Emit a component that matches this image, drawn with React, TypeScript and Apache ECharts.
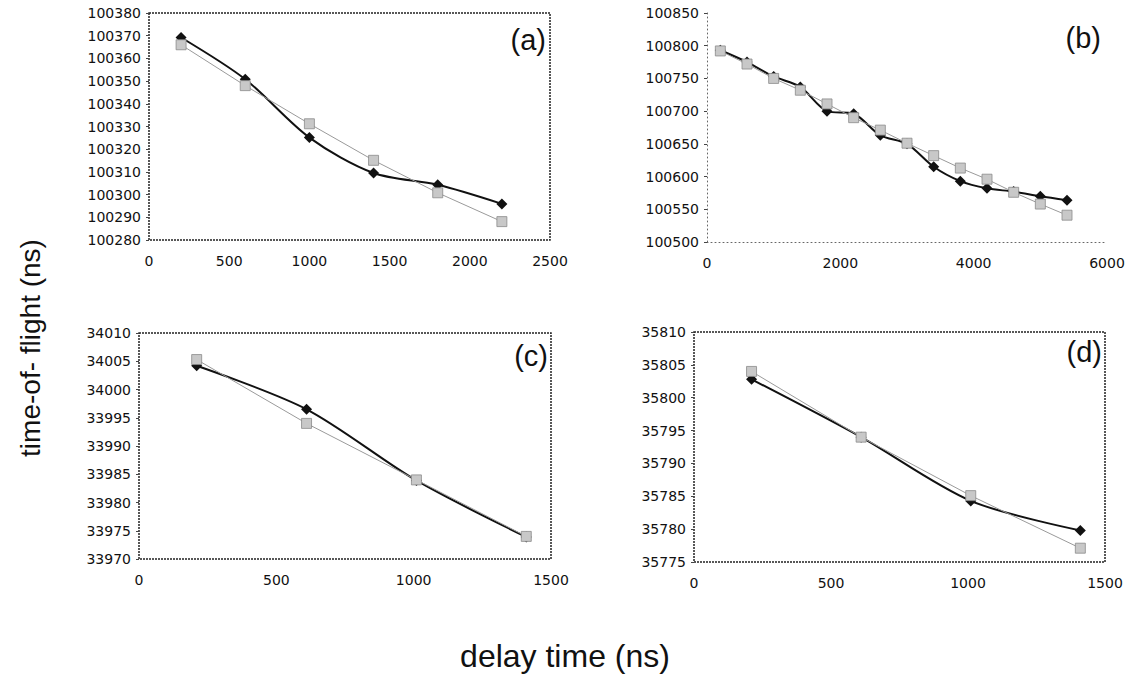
import React, { useEffect, useRef } from "react";
import * as echarts from "echarts";

// ---------- data ----------
const xA = [200, 600, 1000, 1400, 1800, 2200];
const blackA = [100369.2, 100350.8, 100325.1, 100309.5, 100304.3, 100295.9];
const grayA = [100366, 100348, 100331.2, 100315.1, 100300.8, 100288.1];

const xB = [200, 600, 1000, 1400, 1800, 2200, 2600, 3000, 3400, 3800, 4200, 4600, 5000, 5400];
const blackB = [100793, 100775, 100753, 100737, 100700, 100696, 100663, 100650, 100615, 100593, 100582, 100577, 100570, 100564];
const grayB = [100792, 100772, 100750, 100732, 100711, 100690, 100671, 100651, 100632, 100613, 100596, 100576, 100558, 100541];

const xC = [210, 610, 1010, 1410];
const blackC = [34004.2, 33996.5, 33983.9, 33973.9];
const grayC = [34005.3, 33994, 33984, 33974];

const xD = [210, 610, 1010, 1410];
const blackD = [35802.8, 35794, 35784.3, 35779.8];
const grayD = [35804, 35794, 35785.1, 35777.1];

const panelLabels = ["(a)", "(b)", "(c)", "(d)"];
const yTitle = "time-of- flight (ns)";
const xTitle = "delay time (ns)";

// axis ranges [min, max, interval]
const xRanges = [
  [0, 2500, 500],
  [0, 6000, 2000],
  [0, 1500, 500],
  [0, 1500, 500],
];
const yRanges = [
  [100280, 100380, 10],
  [100500, 100850, 50],
  [33970, 34010, 5],
  [35775, 35810, 5],
];

export default function App() {
  const ref = useRef<HTMLDivElement>(null);
  useEffect(() => {
    if (!ref.current) return;
    const chart = echarts.init(ref.current, undefined, { renderer: "svg" });
    const font = "DejaVu Sans";
    const grids = [
      { left: 149, top: 13, width: 401, height: 227 },
      { left: 707, top: 13, width: 400, height: 229 },
      { left: 139, top: 333, width: 412, height: 226 },
      { left: 694, top: 332, width: 411, height: 230 },
    ];
    const boxed = [true, false, true, true];
    const gridOpts = grids.map((g, i) => ({
      ...g,
      show: boxed[i],
      borderColor: "#222",
      borderWidth: 1.5,
      borderType: [2, 1],
      backgroundColor: "transparent",
    }));
    const xAxes = xRanges.map((r, i) => ({
      type: "value",
      gridIndex: i,
      min: r[0],
      max: r[1],
      interval: r[2],
      splitLine: { show: false },
      axisLine: {
        show: !boxed[i],
        onZero: false,
        lineStyle: { color: "#666", type: [1, 3], width: 1 },
      },
      axisTick: { show: false },
      axisLabel: {
        color: "#111",
        fontFamily: font,
        fontSize: 14,
        margin: 14,
        formatter: (v: number) => String(v),
      },
    }));
    const yAxes = yRanges.map((r, i) => ({
      type: "value",
      gridIndex: i,
      min: r[0],
      max: r[1],
      interval: r[2],
      splitLine: { show: false },
      axisLine: {
        show: !boxed[i],
        onZero: false,
        lineStyle: { color: "#666", type: [1, 3], width: 1 },
      },
      axisTick: { show: true, length: 3, lineStyle: { color: "#444" } },
      axisLabel: {
        color: "#111",
        fontFamily: font,
        fontSize: 14,
        margin: 8,
        formatter: (v: number) => String(v),
      },
    }));
    const xs = [xA, xB, xC, xD];
    const blacks = [blackA, blackB, blackC, blackD];
    const grays = [grayA, grayB, grayC, grayD];
    const series: any[] = [];
    for (let i = 0; i < 4; i++) {
      series.push({
        type: "line",
        xAxisIndex: i,
        yAxisIndex: i,
        data: xs[i].map((x, k) => [x, blacks[i][k]]),
        smooth: 0.3,
        symbol: "diamond",
        symbolSize: 11,
        lineStyle: { color: "#111", width: 2 },
        itemStyle: { color: "#111" },
        z: 2,
      });
      series.push({
        type: "line",
        xAxisIndex: i,
        yAxisIndex: i,
        data: xs[i].map((x, k) => [x, grays[i][k]]),
        symbol: "rect",
        symbolSize: 10,
        lineStyle: { color: "#9a9a9a", width: 1 },
        itemStyle: { color: "#c8c8c8", borderColor: "#8a8a8a", borderWidth: 0.8 },
        z: 3,
      });
    }
    const labelPos = [
      { x: 546, y: 40 },
      { x: 1101, y: 38 },
      { x: 548, y: 356 },
      { x: 1102, y: 352 },
    ];
    const graphic: any[] = panelLabels.map((t, i) => ({
      type: "text",
      x: labelPos[i].x,
      y: labelPos[i].y,
      style: {
        text: t,
        fontFamily: "Liberation Sans",
        fontSize: 29,
        fill: "#111",
        align: "right",
        verticalAlign: "middle",
      },
    }));
    graphic.push({
      type: "text",
      x: 30,
      y: 348,
      rotation: Math.PI / 2,
      style: {
        text: yTitle,
        fontFamily: "Liberation Sans",
        fontSize: 28,
        fill: "#111",
        align: "center",
        verticalAlign: "middle",
      },
    });
    graphic.push({
      type: "text",
      x: 565,
      y: 656,
      style: {
        text: xTitle,
        fontFamily: "Liberation Sans",
        fontSize: 32,
        fill: "#111",
        align: "center",
        verticalAlign: "middle",
      },
    });
    chart.setOption({
      animation: false,
      backgroundColor: "#fff",
      grid: gridOpts,
      xAxis: xAxes,
      yAxis: yAxes,
      series,
      graphic,
    });
    return () => chart.dispose();
  }, []);
  return (
    <div
      ref={ref}
      style={{ position: "fixed", left: 0, top: 0, width: 1130, height: 677 }}
    />
  );
}
